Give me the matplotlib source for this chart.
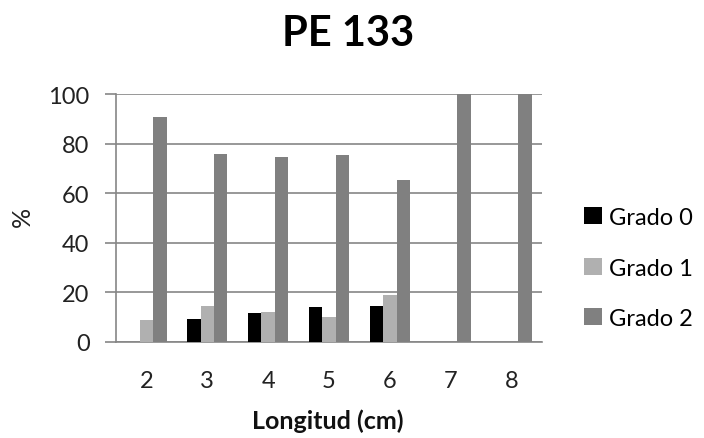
import matplotlib
matplotlib.use("Agg")
import matplotlib.pyplot as plt
import numpy as np

categories = ["2", "3", "4", "5", "6", "7", "8"]
grado0 = [0, 9.2, 11.8, 14.0, 14.7, 0, 0]
grado1 = [9.0, 14.5, 12.2, 10.2, 18.8, 0, 0]
grado2 = [90.6, 75.9, 74.7, 75.4, 65.5, 100, 100]
series_names = ["Grado 0", "Grado 1", "Grado 2"]
colors = ["#000000", "#b0b0b0", "#808080"]

plt.rcParams['font.family'] = ['Lato', 'DejaVu Sans']

fig = plt.figure(figsize=(7.04, 4.39), dpi=100)
ax = fig.add_axes([116/704, 1-343/439, (542-116)/704, (343-95)/439])

x = np.arange(len(categories))
w = 0.22
for i, (vals, name, c) in enumerate(zip([grado0, grado1, grado2], series_names, colors)):
    ax.bar(x + (i-1)*w, vals, width=w, color=c, label=name, zorder=3)

ax.set_xlim(-0.5, len(categories)-0.5)
ax.set_ylim(0, 100)
ax.set_yticks(range(0, 101, 20))
ax.set_xticks(x)
ax.set_xticklabels(categories)
ax.yaxis.grid(True, color="#868686", linewidth=1.2, zorder=0)
for s in ["top", "right"]:
    ax.spines[s].set_visible(False)
for s in ["left", "bottom"]:
    ax.spines[s].set_color("#868686")
    ax.spines[s].set_linewidth(1.2)
ax.tick_params(axis='y', length=8, width=1.2, color="#868686", pad=11, labelsize=17, labelcolor="#222222")
ax.tick_params(axis='x', length=0, pad=20, labelsize=17, labelcolor="#222222")

fig.text(348/704, 1-34/439, "PE 133", ha="center", va="center", fontsize=30, fontweight="bold")
fig.text(328/704, 1-421/439, "Longitud (cm)", ha="center", va="center", fontsize=18, fontweight="bold", color="#111111")
fig.text(22/704, 1-217/439, "%", ha="center", va="center", rotation=90, fontsize=18, color="#222222")

fig.legend(loc="center left", bbox_to_anchor=(572/704, 1-269/439), frameon=False,
           fontsize=17, handlelength=0.75, handleheight=0.75, handletextpad=0.3,
           labelspacing=1.25, borderpad=0)

fig.savefig("out.png", dpi=100)
